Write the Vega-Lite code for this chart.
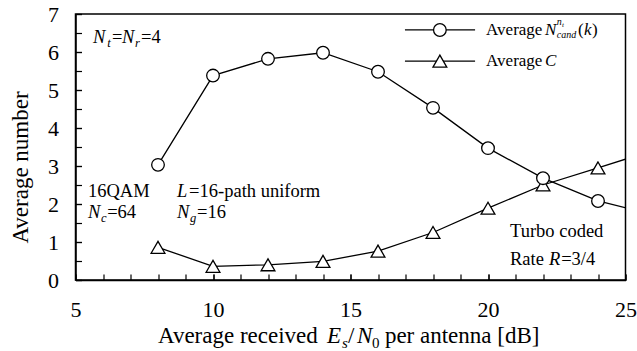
{
  "$schema": "https://vega.github.io/schema/vega-lite/v6.json",
  "width": 550,
  "height": 266,
  "autosize": {"type": "none"},
  "padding": {"left": 75.5, "top": 14, "right": 11.5, "bottom": 71},
  "background": "white",
  "data": {"values": [{}]},
  "config": {
    "font": "Liberation Serif, Times New Roman, DejaVu Serif, serif",
    "view": {"stroke": "black", "strokeWidth": 1.5},
    "axis": {
      "domainColor": "black", "domainWidth": 1.5,
      "tickColor": "black", "tickWidth": 1.2, "tickSize": -6,
      "grid": false,
      "labelFont": "Liberation Serif, Times New Roman, DejaVu Serif, serif", "labelFontSize": 22, "labelColor": "black",
      "labelFlush": false, "labelOverlap": false, "labelBound": false,
      "titleFont": "Liberation Serif, Times New Roman, DejaVu Serif, serif", "titleFontSize": 23, "titleFontWeight": "normal", "titleColor": "black"
    },
    "style": {
      "ann": {"font": "Liberation Serif, Times New Roman, DejaVu Serif, serif", "fontSize": 18.5, "align": "left", "baseline": "alphabetic", "fill": "black"},
      "annI": {"font": "Liberation Serif, Times New Roman, DejaVu Serif, serif", "fontSize": 18.5, "fontStyle": "italic", "align": "left", "baseline": "alphabetic", "fill": "black"},
      "annS": {"font": "Liberation Serif, Times New Roman, DejaVu Serif, serif", "fontSize": 12.5, "fontStyle": "italic", "align": "left", "baseline": "alphabetic", "fill": "black"},
      "leg": {"font": "Liberation Serif, Times New Roman, DejaVu Serif, serif", "fontSize": 17, "align": "left", "baseline": "alphabetic", "fill": "black"},
      "legI": {"font": "Liberation Serif, Times New Roman, DejaVu Serif, serif", "fontSize": 17, "fontStyle": "italic", "align": "left", "baseline": "alphabetic", "fill": "black"},
      "legS": {"font": "Liberation Serif, Times New Roman, DejaVu Serif, serif", "fontSize": 10, "fontStyle": "italic", "align": "left", "baseline": "alphabetic", "fill": "black"},
      "legSS": {"font": "Liberation Serif, Times New Roman, DejaVu Serif, serif", "fontSize": 7, "fontStyle": "italic", "align": "left", "baseline": "alphabetic", "fill": "black"},
      "tit": {"font": "Liberation Serif, Times New Roman, DejaVu Serif, serif", "fontSize": 23, "align": "left", "baseline": "alphabetic", "fill": "black"},
      "titI": {"font": "Liberation Serif, Times New Roman, DejaVu Serif, serif", "fontSize": 23, "fontStyle": "italic", "align": "left", "baseline": "alphabetic", "fill": "black"},
      "titS": {"font": "Liberation Serif, Times New Roman, DejaVu Serif, serif", "fontSize": 15, "align": "left", "baseline": "alphabetic", "fill": "black"},
      "titSI": {"font": "Liberation Serif, Times New Roman, DejaVu Serif, serif", "fontSize": 15, "fontStyle": "italic", "align": "left", "baseline": "alphabetic", "fill": "black"}
    }
  },
  "datasets": {
    "curves": [
      {"snr": 8, "value": 3.03, "series": "cand"},
      {"snr": 10, "value": 5.38, "series": "cand"},
      {"snr": 12, "value": 5.82, "series": "cand"},
      {"snr": 14, "value": 5.98, "series": "cand"},
      {"snr": 16, "value": 5.48, "series": "cand"},
      {"snr": 18, "value": 4.53, "series": "cand"},
      {"snr": 20, "value": 3.47, "series": "cand"},
      {"snr": 22, "value": 2.68, "series": "cand"},
      {"snr": 24, "value": 2.08, "series": "cand"},
      {"snr": 26, "value": 1.72, "series": "cand"},
      {"snr": 8, "value": 0.86, "series": "C"},
      {"snr": 10, "value": 0.36, "series": "C"},
      {"snr": 12, "value": 0.4, "series": "C"},
      {"snr": 14, "value": 0.49, "series": "C"},
      {"snr": 16, "value": 0.76, "series": "C"},
      {"snr": 18, "value": 1.25, "series": "C"},
      {"snr": 20, "value": 1.89, "series": "C"},
      {"snr": 22, "value": 2.5, "series": "C"},
      {"snr": 24, "value": 2.95, "series": "C"},
      {"snr": 26, "value": 3.41, "series": "C"}
    ]
  },
  "resolve": {"axis": {"x": "independent", "y": "independent"}},
  "layer": [
    {
      "layer": [
        {
          "data": {"name": "curves"},
          "mark": {"type": "line", "color": "black", "strokeWidth": 1.3, "clip": true},
          "encoding": {
            "x": {"field": "snr", "type": "quantitative", "scale": {"domain": [5, 25], "nice": false, "zero": false},
              "axis": {"orient": "bottom", "values": [5, 10, 15, 20, 25], "labelPadding": 25, "labelOverlap": false, "title": null}},
            "y": {"field": "value", "type": "quantitative", "scale": {"domain": [0, 7], "nice": false},
              "axis": {"orient": "left", "values": [0, 2, 4, 6], "labelPadding": 23, "labelOverlap": false, "title": "Average number", "titlePadding": 15, "titleY": 153}},
            "detail": {"field": "series"}
          }
        },
        {"mark": {"type": "rule", "color": "black", "strokeWidth": 1.3}, "encoding": {"x": {"datum": 16.98}, "x2": {"datum": 19.53}, "y": {"datum": 6.58}}},
        {"mark": {"type": "rule", "color": "black", "strokeWidth": 1.3}, "encoding": {"x": {"datum": 16.98}, "x2": {"datum": 19.53}, "y": {"datum": 5.76}}},
        {"mark": {"type": "point", "shape": "circle", "size": 160, "filled": true, "fill": "white", "stroke": "black", "strokeWidth": 1.3, "opacity": 1}, "encoding": {"x": {"datum": 18.25}, "y": {"datum": 6.58}}},
        {"mark": {"type": "point", "shape": "triangle-up", "size": 190, "filled": true, "fill": "white", "stroke": "black", "strokeWidth": 1.3, "opacity": 1}, "encoding": {"x": {"datum": 18.25}, "y": {"datum": 5.76}}},

        {"mark": {"type": "text", "style": "leg", "text": "Average"}, "encoding": {"x": {"datum": 19.93}, "y": {"datum": 6.45}}},
        {"mark": {"type": "text", "style": "legI", "text": "N"}, "encoding": {"x": {"datum": 22.07}, "y": {"datum": 6.45}}},
        {"mark": {"type": "text", "style": "legS", "text": "n"}, "encoding": {"x": {"datum": 22.5}, "y": {"datum": 6.71}}},
        {"mark": {"type": "text", "style": "legSS", "text": "t"}, "encoding": {"x": {"datum": 22.69}, "y": {"datum": 6.66}}},
        {"mark": {"type": "text", "style": "legS", "text": "cand"}, "encoding": {"x": {"datum": 22.5}, "y": {"datum": 6.37}}},
        {"mark": {"type": "text", "style": "leg", "text": "("}, "encoding": {"x": {"datum": 23.27}, "y": {"datum": 6.45}}},
        {"mark": {"type": "text", "style": "legI", "text": "k"}, "encoding": {"x": {"datum": 23.49}, "y": {"datum": 6.45}}},
        {"mark": {"type": "text", "style": "leg", "text": ")"}, "encoding": {"x": {"datum": 23.78}, "y": {"datum": 6.45}}},
        {"mark": {"type": "text", "style": "leg", "text": "Average"}, "encoding": {"x": {"datum": 19.93}, "y": {"datum": 5.63}}},
        {"mark": {"type": "text", "style": "legI", "text": "C"}, "encoding": {"x": {"datum": 22.07}, "y": {"datum": 5.63}}},

        {"mark": {"type": "text", "style": "annI", "text": "N"}, "encoding": {"x": {"datum": 5.64}, "y": {"datum": 6.24}}},
        {"mark": {"type": "text", "style": "annS", "text": "t"}, "encoding": {"x": {"datum": 6.15}, "y": {"datum": 6.13}}},
        {"mark": {"type": "text", "style": "ann", "text": "="}, "encoding": {"x": {"datum": 6.33}, "y": {"datum": 6.24}}},
        {"mark": {"type": "text", "style": "annI", "text": "N"}, "encoding": {"x": {"datum": 6.69}, "y": {"datum": 6.24}}},
        {"mark": {"type": "text", "style": "annS", "text": "r"}, "encoding": {"x": {"datum": 7.16}, "y": {"datum": 6.13}}},
        {"mark": {"type": "text", "style": "ann", "text": "=4"}, "encoding": {"x": {"datum": 7.38}, "y": {"datum": 6.24}}},

        {"mark": {"type": "text", "style": "ann", "text": "16QAM"}, "encoding": {"x": {"datum": 5.455}, "y": {"datum": 2.184}}},
        {"mark": {"type": "text", "style": "annI", "text": "L"}, "encoding": {"x": {"datum": 8.69}, "y": {"datum": 2.184}}},
        {"mark": {"type": "text", "style": "ann", "text": "=16-path uniform"}, "encoding": {"x": {"datum": 9.13}, "y": {"datum": 2.184}}},
        {"mark": {"type": "text", "style": "annI", "text": "N"}, "encoding": {"x": {"datum": 5.455}, "y": {"datum": 1.632}}},
        {"mark": {"type": "text", "style": "annS", "text": "c"}, "encoding": {"x": {"datum": 5.93}, "y": {"datum": 1.526}}},
        {"mark": {"type": "text", "style": "ann", "text": "=64"}, "encoding": {"x": {"datum": 6.15}, "y": {"datum": 1.632}}},
        {"mark": {"type": "text", "style": "annI", "text": "N"}, "encoding": {"x": {"datum": 8.69}, "y": {"datum": 1.632}}},
        {"mark": {"type": "text", "style": "annS", "text": "g"}, "encoding": {"x": {"datum": 9.16}, "y": {"datum": 1.526}}},
        {"mark": {"type": "text", "style": "ann", "text": "=16"}, "encoding": {"x": {"datum": 9.42}, "y": {"datum": 1.632}}},
        {"mark": {"type": "text", "style": "ann", "text": "Turbo coded"}, "encoding": {"x": {"datum": 20.8}, "y": {"datum": 1.132}}},
        {"mark": {"type": "text", "style": "ann", "text": "Rate"}, "encoding": {"x": {"datum": 20.8}, "y": {"datum": 0.395}}},
        {"mark": {"type": "text", "style": "annI", "text": "R"}, "encoding": {"x": {"datum": 22.22}, "y": {"datum": 0.395}}},
        {"mark": {"type": "text", "style": "ann", "text": "=3/4"}, "encoding": {"x": {"datum": 22.66}, "y": {"datum": 0.395}}},

        {"mark": {"type": "text", "style": "tit", "text": "Average received"}, "encoding": {"x": {"datum": 8.0}, "y": {"datum": -1.658}}},
        {"mark": {"type": "text", "style": "titI", "text": "E"}, "encoding": {"x": {"datum": 14.145}, "y": {"datum": -1.658}}},
        {"mark": {"type": "text", "style": "titSI", "text": "s"}, "encoding": {"x": {"datum": 14.69}, "y": {"datum": -1.79}}},
        {"mark": {"type": "text", "style": "tit", "text": "/"}, "encoding": {"x": {"datum": 14.91}, "y": {"datum": -1.658}}},
        {"mark": {"type": "text", "style": "titI", "text": "N"}, "encoding": {"x": {"datum": 15.236}, "y": {"datum": -1.658}}},
        {"mark": {"type": "text", "style": "titS", "text": "0"}, "encoding": {"x": {"datum": 15.78}, "y": {"datum": -1.79}}},
        {"mark": {"type": "text", "style": "tit", "text": "per antenna [dB]"}, "encoding": {"x": {"datum": 16.25}, "y": {"datum": -1.658}}}
      ]
    },
    {
      "data": {"name": "curves"},
      "transform": [{"filter": "datum.series === 'C'"}],
      "mark": {"type": "point", "shape": "triangle-up", "size": 190, "filled": true, "fill": "white", "stroke": "black", "strokeWidth": 1.3, "opacity": 1, "clip": true},
      "encoding": {
        "x": {"field": "snr", "type": "quantitative",
          "axis": {"orient": "bottom", "values": [5,6,7,8,9,10,11,12,13,14,15,16,17,18,19,20,21,22,23,24,25], "labels": false, "domain": false, "title": null}},
        "y": {"field": "value", "type": "quantitative",
          "axis": {"orient": "left", "values": [0,0.5,1,1.5,2,2.5,3,3.5,4,4.5,5,5.5,6,6.5,7], "labels": false, "domain": false, "title": null}}
      }
    },
    {
      "data": {"name": "curves"},
      "transform": [{"filter": "datum.series === 'cand'"}],
      "mark": {"type": "point", "shape": "circle", "size": 160, "filled": true, "fill": "white", "stroke": "black", "strokeWidth": 1.3, "opacity": 1, "clip": true},
      "encoding": {
        "x": {"field": "snr", "type": "quantitative", "axis": null},
        "y": {"field": "value", "type": "quantitative",
          "axis": {"orient": "left", "values": [1, 3, 5, 7], "labelPadding": 23, "labelOverlap": false, "domain": false, "title": null}}
      }
    }
  ]
}
